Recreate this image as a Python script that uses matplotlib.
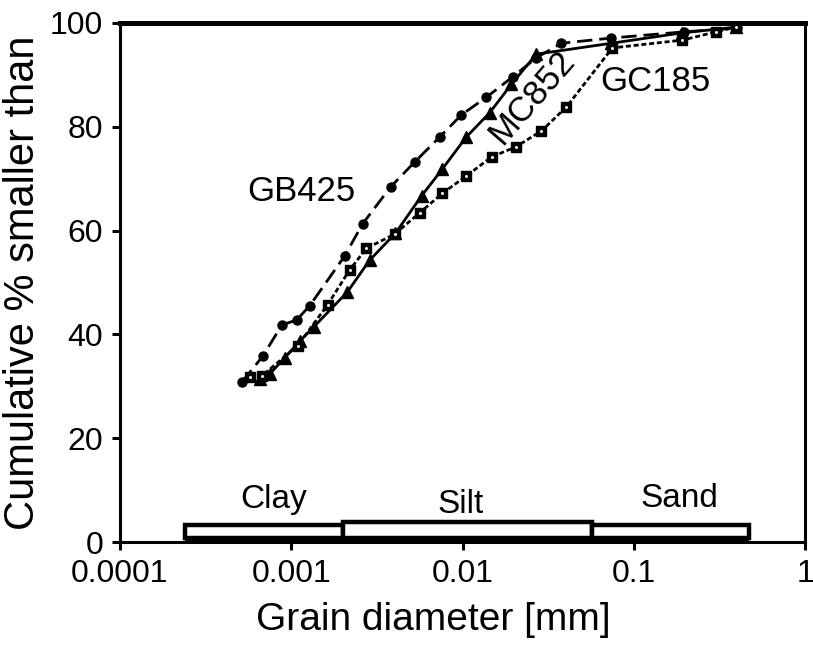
import matplotlib
matplotlib.use("Agg")
import matplotlib.pyplot as plt
from matplotlib.patches import Rectangle

plt.rcParams['font.family'] = ['Liberation Sans', 'DejaVu Sans']

# grain size distributions (diameter in mm, cumulative % smaller than)
gb425_d = [0.000514, 0.000682, 0.000881, 0.001077, 0.00128, 0.00205, 0.00261, 0.0038,
           0.00525, 0.00734, 0.00986, 0.0138, 0.0196, 0.027, 0.0378, 0.074, 0.197, 0.401]
gb425_pct = [30.8, 35.8, 41.8, 42.8, 45.5, 55.1, 61.3, 68.4,
             73.2, 78.0, 82.3, 85.7, 89.6, 93.3, 96.1, 97.1, 98.3, 99.0]

mc852_d = [0.000654, 0.00075, 0.000916, 0.00112, 0.00135, 0.00213, 0.00287, 0.00406,
           0.00577, 0.00764, 0.0105, 0.0144, 0.0193, 0.027, 0.074, 0.192, 0.396]
mc852_pct = [31.4, 32.4, 35.5, 38.7, 41.4, 48.2, 54.3, 59.5,
             66.7, 71.9, 78.0, 82.7, 88.2, 94.0, 96.1, 98.1, 99.2]

gc185_d = [0.000573, 0.000673, 0.00109, 0.00163, 0.00219, 0.00275, 0.00401, 0.00561,
           0.00764, 0.0105, 0.0148, 0.0204, 0.0289, 0.0404, 0.075, 0.192, 0.303, 0.396]
gc185_pct = [31.8, 32.0, 37.8, 45.7, 52.4, 56.6, 59.3, 63.4,
             67.2, 70.5, 74.2, 76.1, 79.2, 83.8, 95.2, 96.7, 98.3, 99.2]

# size classes drawn along the bottom
class_names = ["Clay", "Silt", "Sand"]
class_edges = [0.00024, 0.002, 0.057, 0.47]
class_tops = [3.3, 3.8, 3.3]
class_label_x = [0.00079, 0.0097, 0.184]
class_label_y = [8.1, 7.3, 8.3]

xticks = [0.0001, 0.001, 0.01, 0.1, 1]
xtick_labels = ["0.0001", "0.001", "0.01", "0.1", "1"]

fig = plt.figure(figsize=(8.13, 6.47), dpi=100)
ax = fig.add_axes([120 / 813, 1 - 542 / 647, 685 / 813, 519 / 647])

ax.plot(gb425_d, gb425_pct, color="black", lw=2.0, dashes=(5.5, 2.5),
        marker="o", ms=6.5, mfc="black", mec="black", zorder=3)

ax.plot(gc185_d, gc185_pct, color="black", lw=2.0, dashes=(1.8, 1.0),
        marker="s", ms=6.5, mfc="black", mec="black", zorder=3)
ax.plot(gc185_d, gc185_pct, ls="none", marker="s", ms=1.0, mfc="white", mec="white", zorder=4)

ax.plot(mc852_d, mc852_pct, color="black", lw=2.0, ls="-",
        marker="^", ms=8.5, mfc="black", mec="black", zorder=3)

ax.text(0.00115, 67.6, "GB425", fontsize=25, ha="center", va="center")
ax.text(0.0252, 85.7, "MC852", fontsize=25, ha="center", va="center", rotation=49)
ax.text(0.133, 88.8, "GC185", fontsize=25, ha="center", va="center")

# class boxes with a black band beneath
ax.add_patch(Rectangle((class_edges[0], 0), class_edges[-1] - class_edges[0], 0.8,
                       facecolor="black", edgecolor="none", zorder=5))
for i, name in enumerate(class_names):
    x0, x1 = class_edges[i], class_edges[i + 1]
    ax.add_patch(Rectangle((x0, 0.8), x1 - x0, class_tops[i] - 0.8,
                           facecolor="white", edgecolor="black", lw=3.2, zorder=5))
    ax.text(class_label_x[i], class_label_y[i], name, fontsize=24, ha="center", va="center")

ax.set_xscale("log")
ax.set_xlim(0.0001, 1)
ax.set_ylim(0, 100)
ax.set_xticks(xticks)
ax.set_xticklabels(xtick_labels)
ax.xaxis.set_minor_locator(matplotlib.ticker.NullLocator())
ax.set_yticks([0, 20, 40, 60, 80, 100])

ax.tick_params(axis="both", direction="out", length=6, width=2.2, labelsize=23, pad=6)
ax.set_xlabel("Grain diameter [mm]", fontsize=28)
ax.xaxis.set_label_coords(0.457, -0.115)
ax.set_ylabel("Cumulative % smaller than", fontsize=30, labelpad=5)

for side in ["left", "bottom", "right"]:
    ax.spines[side].set_linewidth(2.2)
ax.spines["top"].set_linewidth(3.6)

fig.savefig("out.png", dpi=100)
